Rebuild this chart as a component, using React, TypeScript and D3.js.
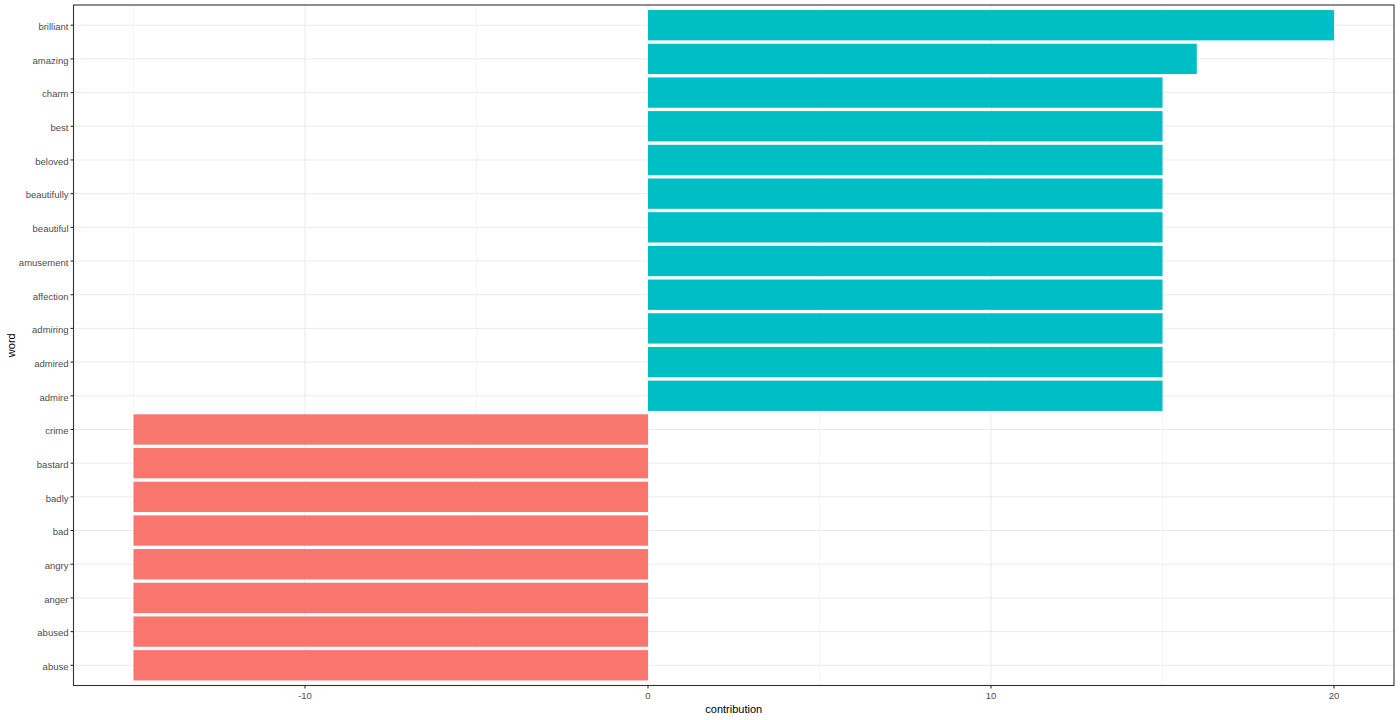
import React from "react";
import * as d3 from "d3";

const words = ["brilliant","amazing","charm","best","beloved","beautifully","beautiful","amusement","affection","admiring","admired","admire","crime","bastard","badly","bad","angry","anger","abused","abuse"];
const contributions = [20,16,15,15,15,15,15,15,15,15,15,15,-15,-15,-15,-15,-15,-15,-15,-15];
const xMajorTicks = [-10,0,10,20];
const xMinorTicks = [-15,-5,5,15];

const W = 1400, H = 720;
const left = 73.5, right = 1394, top = 5, bottom = 685.5;

export default function App() {
  const x = d3.scaleLinear().domain([-16.75, 21.75]).range([left, right]);
  const n = words.length;
  const step = (bottom - top) / (n - 1 + 1.2);
  const yc = (i: number) => top + step * (0.6 + i);
  const bh = step * 0.9;
  const font = "'Liberation Sans', Arial, sans-serif";
  return (
    <svg width={W} height={H} style={{ position: "absolute", left: 0, top: 0 }} fontFamily={font}>
      <rect x={0} y={0} width={W} height={H} fill="#fff" />
      {xMinorTicks.map(t => (
        <line key={"mn"+t} x1={x(t)} x2={x(t)} y1={top} y2={bottom} stroke="#EBEBEB" strokeWidth={0.5} />
      ))}
      {xMajorTicks.map(t => (
        <line key={"mj"+t} x1={x(t)} x2={x(t)} y1={top} y2={bottom} stroke="#EBEBEB" strokeWidth={1} />
      ))}
      {words.map((w, i) => (
        <line key={"hg"+w} x1={left} x2={right} y1={yc(i)} y2={yc(i)} stroke="#EBEBEB" strokeWidth={1} />
      ))}
      {words.map((w, i) => {
        const v = contributions[i];
        return (
          <rect key={"b"+w} x={x(Math.min(0, v))} width={Math.abs(x(v) - x(0))} y={yc(i) - bh / 2} height={bh}
            fill={v < 0 ? "#F8766D" : "#00BFC4"} />
        );
      })}
      <rect x={left} y={top} width={right - left} height={bottom - top} fill="none" stroke="#333333" strokeWidth={1.1} />
      {words.map((w, i) => (
        <g key={"yt"+w}>
          <line x1={left - 3} x2={left} y1={yc(i)} y2={yc(i)} stroke="#333333" strokeWidth={1.1} />
          <text x={left - 5} y={yc(i) + 1} dy="0.4em" textAnchor="end" fontSize={9.5} fill="#4D4D4D">{w}</text>
        </g>
      ))}
      {xMajorTicks.map(t => (
        <g key={"xt"+t}>
          <line x1={x(t)} x2={x(t)} y1={bottom} y2={bottom + 3} stroke="#333333" strokeWidth={1.1} />
          <text x={x(t)} y={bottom + 13} textAnchor="middle" fontSize={9.5} fill="#4D4D4D">{t}</text>
        </g>
      ))}
      <text x={(left + right) / 2} y={713} textAnchor="middle" fontSize={11} fill="#000">contribution</text>
      <text transform={`translate(15,${(top + bottom) / 2}) rotate(-90)`} textAnchor="middle" fontSize={11} fill="#000">word</text>
    </svg>
  );
}
